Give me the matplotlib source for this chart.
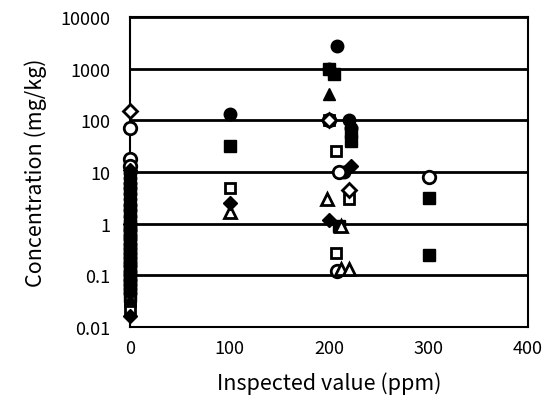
import numpy as np
import matplotlib
matplotlib.use("Agg")
from matplotlib import pyplot as plt

plt.rcParams['font.family'] = ['Noto Sans CJK JP', 'DejaVu Sans']

# inspected value (ppm) and concentration (mg/kg) per marker style
fc_x = [0] * 24 + [100, 208, 200, 220, 215, 222]
fc_y = [0.045, 0.055, 0.065, 0.08, 0.1, 0.12, 0.15, 0.18, 0.22, 0.27, 0.33, 0.4,
        0.5, 0.6, 0.75, 1.4, 1.8, 2.3, 3, 3.8, 4.8, 6, 7.5, 9.5,
        130, 2800, 1000, 100, 10, 70]

oc_x = [0, 0, 0, 200, 210, 208, 300]
oc_y = [70, 18, 13, 100, 10, 0.12, 8]

fs_x = [0] * 12 + [100, 205, 200, 222, 222, 210, 300, 300]
fs_y = [0.04, 0.07, 0.09, 0.13, 0.2, 0.3, 0.45, 0.7, 0.9, 1.1, 2, 5,
        32, 800, 1000, 60, 40, 0.9, 3.2, 0.25]

os_x = [0, 0, 100, 207, 220, 207, 200]
os_y = [0.022, 0.032, 5, 25, 3, 0.27, 100]

ft_x = [0, 0, 200, 222]
ft_y = [0.035, 4, 330, 45]

ot_x = [100, 198, 212, 212, 220]
ot_y = [1.7, 3, 0.9, 0.13, 0.13]

fd_x = [0, 0, 0, 100, 200, 222]
fd_y = [0.016, 1, 11, 2.5, 1.2, 13]

od_x = [0, 220, 200]
od_y = [150, 4.5, 100]

fig = plt.figure(figsize=(5.59, 4.10), dpi=100)
ax = fig.add_axes([0.2326, 0.2, 0.712, 0.756])

ms = 9
kw = dict(linestyle='none', color='black', clip_on=False, zorder=3)
hollow = dict(markerfacecolor='white', markeredgewidth=2)
ax.plot(fc_x, fc_y, marker='o', markersize=ms, **kw)
ax.plot(fs_x, fs_y, marker='s', markersize=ms - 0.5, **kw)
ax.plot(os_x, os_y, marker='s', markersize=ms - 1.5, **hollow, **kw)
ax.plot(oc_x, oc_y, marker='o', markersize=ms, **hollow, **kw)
ax.plot(ft_x, ft_y, marker='^', markersize=ms, **kw)
ax.plot(ot_x, ot_y, marker='^', markersize=ms, **hollow, **kw)
ax.plot(fd_x, fd_y, marker='D', markersize=ms - 2, **kw)
ax.plot(od_x, od_y, marker='D', markersize=ms - 2, **hollow, **kw)

ax.set_yscale('log')
ax.set_xlim(0, 400)
ax.set_ylim(0.01, 10000)
ax.set_xticks([0, 100, 200, 300, 400])
ax.set_yticks([0.01, 0.1, 1, 10, 100, 1000, 10000])
ax.set_yticklabels(['0.01', '0.1', '1', '10', '100', '1000', '10000'])
ax.minorticks_off()
ax.tick_params(length=0, labelsize=13)
ax.tick_params(axis='y', pad=14)
ax.tick_params(axis='x', pad=9)
ax.yaxis.grid(True, color='black', linewidth=2)
ax.set_axisbelow(True)
for s in ax.spines.values():
    s.set_linewidth(1.5)

ax.set_xlabel('Inspected value (ppm)', fontsize=15.5, labelpad=10)
ax.set_ylabel('Concentration (mg/kg)', fontsize=15.5, labelpad=10)

fig.savefig('out.png', dpi=100)
